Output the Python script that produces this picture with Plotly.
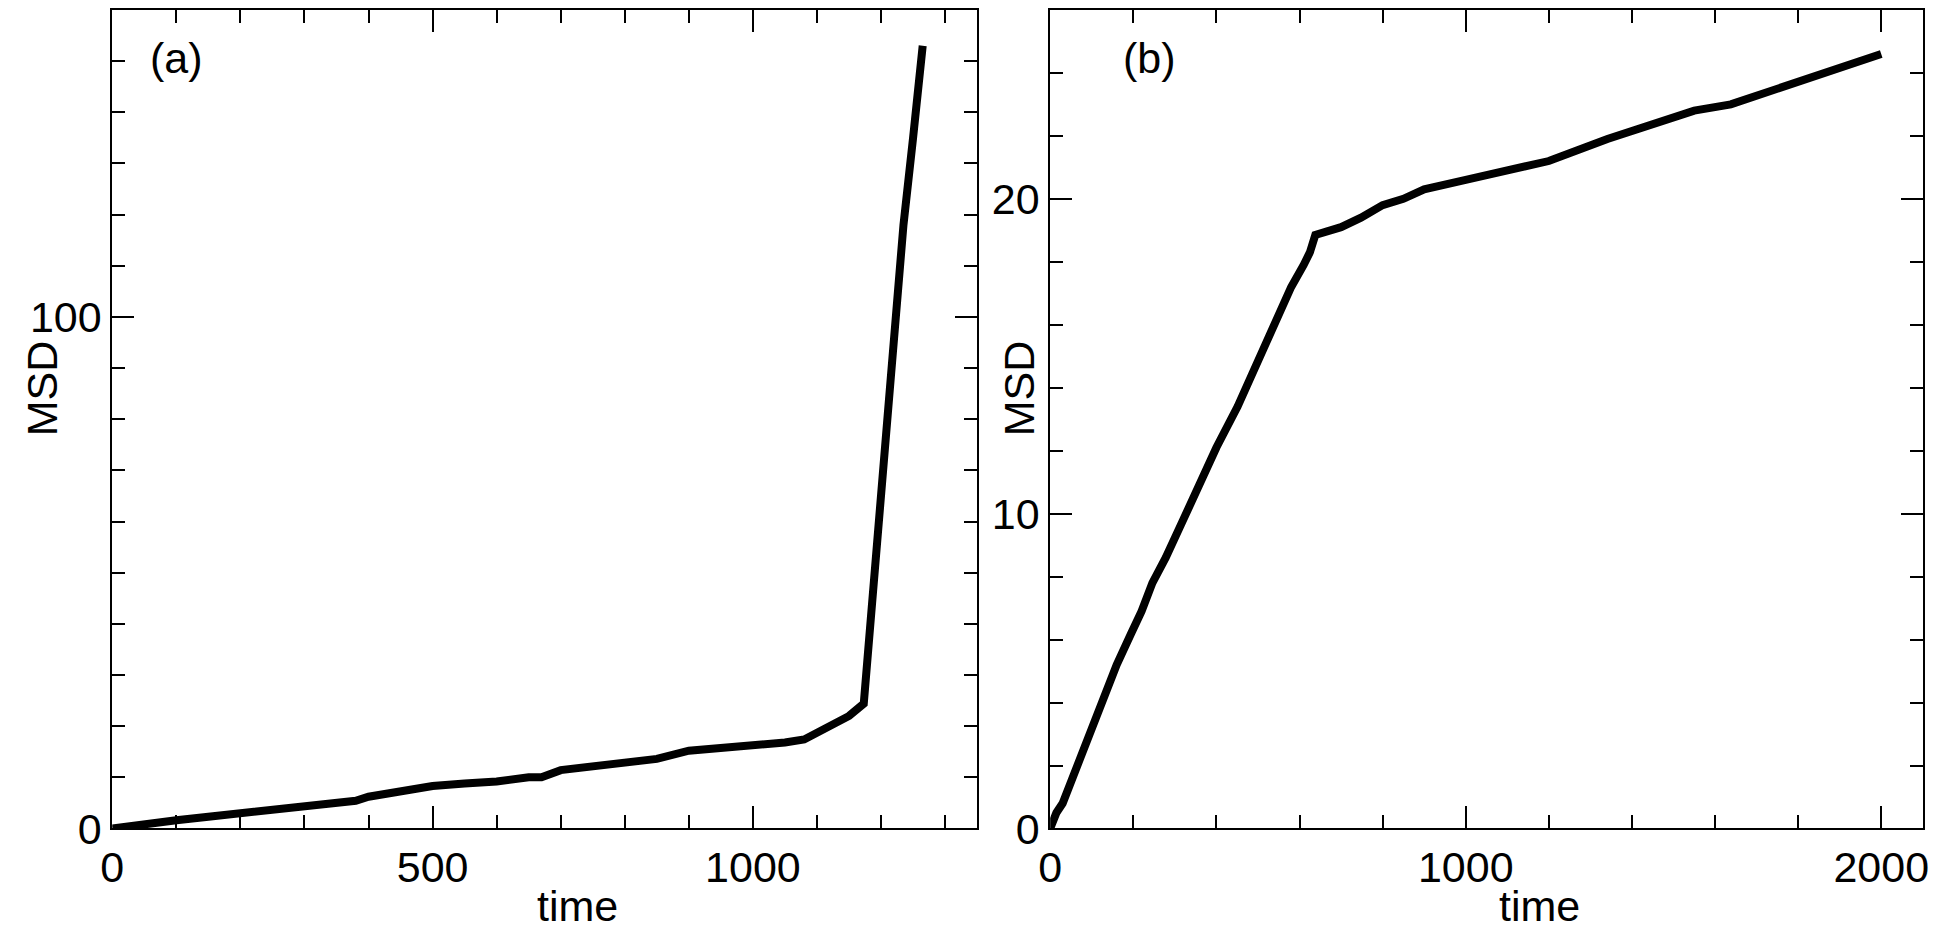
import plotly.graph_objects as go

# panel (a)
t_a = [0, 50, 100, 150, 200, 250, 300, 350, 380, 400, 450, 500, 550, 600, 650, 670, 700, 750, 800, 850,
       900, 950, 1000, 1050, 1080, 1100, 1130, 1150, 1173, 1187, 1198, 1210, 1222, 1235, 1250, 1265]
msd_a = [0, 0.9, 1.6, 2.3, 2.9, 3.6, 4.4, 5.0, 5.4, 6.2, 7.2, 8.3, 8.8, 9.2, 10.0, 10.0, 11.4, 12.1, 13.0, 13.6,
         15.2, 15.7, 16.2, 16.8, 17.4, 18.6, 20.6, 22.0, 24.4, 45, 62, 80, 100, 118, 135, 153]
# panel (b)
t_b = [0, 15, 30, 50, 67, 100, 131, 160, 195, 220, 246, 278, 320, 360, 400, 451, 500, 540, 580, 610, 625, 638,
       660, 700, 748, 800, 850, 900, 1000, 1100, 1200, 1341, 1450, 1550, 1638, 1750, 1850, 1950, 2000]
msd_b = [0, 0.5, 0.8, 1.5, 2.1, 3.2, 4.3, 5.2, 6.2, 6.9, 7.8, 8.6, 9.8, 11.0, 12.1, 13.4, 14.8, 16.0, 17.2, 17.9, 18.3, 18.85,
         18.95, 19.1, 19.4, 19.8, 20.0, 20.3, 20.6, 20.9, 21.2, 21.9, 22.4, 22.8, 23.0, 23.5, 23.9, 24.4, 24.6]

FONT = "Liberation Sans Narrow, Liberation Sans, Arial"
fig = go.Figure()
fig.add_trace(go.Scatter(x=t_a, y=msd_a, mode="lines", line=dict(color="black", width=8), xaxis="x", yaxis="y"))
fig.add_trace(go.Scatter(x=t_b, y=msd_b, mode="lines", line=dict(color="black", width=8), xaxis="x2", yaxis="y2"))

def ax(rng, dtick, mdt, dom, anchor):
    return dict(range=rng, dtick=dtick, tick0=0, domain=dom, anchor=anchor, showgrid=False, zeroline=False,
                showline=True, linecolor="black", linewidth=2, mirror="ticks", ticks="inside", ticklen=22,
                tickwidth=2, tickcolor="black", tickfont=dict(family=FONT, size=43, color="black"),
                minor=dict(dtick=mdt, ticks="inside", ticklen=13, tickwidth=2, tickcolor="black", showgrid=False))

yd = [0.0975, 0.999]
fig.update_layout(
    width=1940, height=933, margin=dict(l=0, r=0, t=0, b=0), showlegend=False,
    paper_bgcolor="white", plot_bgcolor="white",
    xaxis=ax([0, 1350], 500, 100, [0.048, 0.498], "y"),
    yaxis=ax([0, 160], 100, 10, yd, "x"),
    xaxis2=ax([0, 2100], 1000, 200, [0.536, 0.990], "y2"),
    yaxis2=ax([0, 26], 10, 2, yd, "x2"),
)
ann = [
    dict(text="(a)", x=158, y=50), dict(text="(b)", x=1140, y=50),
    dict(text="time", x=563, y=922), dict(text="time", x=1534, y=922),
    dict(text="MSD", x=22, y=390, textangle=-90), dict(text="MSD", x=1008, y=390, textangle=-90),
]
for a in ann:
    fig.add_annotation(x=a["x"] / 1940, y=1 - a["y"] / 933, xref="paper", yref="paper", text=a["text"],
                       showarrow=False, textangle=a.get("textangle", 0),
                       font=dict(family=FONT, size=43, color="black"), xanchor="center", yanchor="middle")
fig.write_html("out.html")
